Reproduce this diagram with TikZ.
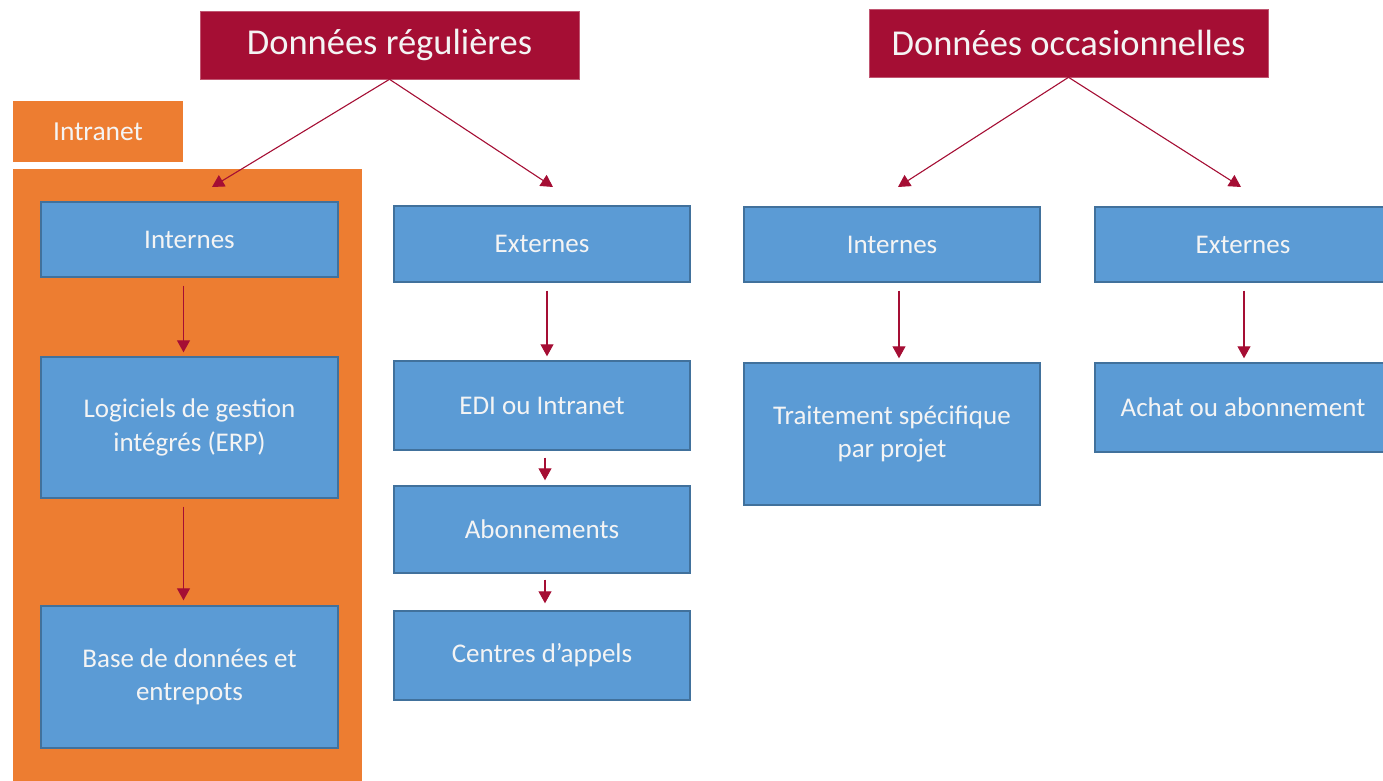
\documentclass[tikz,border=0pt]{standalone}
\usepackage{fontspec}
\setmainfont{Carlito}
\usetikzlibrary{arrows.meta}
\definecolor{maroon}{HTML}{A50E34}
\definecolor{orangeF}{HTML}{ED7D31}
\definecolor{blueF}{HTML}{5B9BD5}
\definecolor{blueD}{HTML}{41719C}
\definecolor{txt}{HTML}{F4F4F4}
\tikzset{
  title/.style={fill=maroon, draw=maroon!70!white, line width=0.6pt, text=txt, font=\fontsize{36.5}{40}\selectfont, inner sep=0pt},
  bbox/.style={fill=blueF, draw=blueD, line width=1.4pt, text=txt, font=\fontsize{27}{33.5}\selectfont, align=center, inner sep=0pt},
  arr/.style={draw=maroon, line width=1.1pt, -{Triangle[length=12pt,width=13pt]}},
}
\begin{document}
\begin{tikzpicture}[x=1pt,y=-1pt]
\useasboundingbox (0,0) rectangle (1383,781);
\clip (0,0) rectangle (1383,781);
% orange zone
\fill[orangeF] (13,169) rectangle (362,790);
\node[fill=orangeF, text=txt, font=\fontsize{27.5}{30}\selectfont, minimum width=170pt, minimum height=61pt, inner sep=0pt] (intra) at (98,131.5) {Intranet};
% titles
\node[title, minimum width=379pt, minimum height=68pt] (reg) at (389.5,45) {Données régulières};
\node[title, minimum width=399pt, minimum height=68pt] (occ) at (1068.5,43) {Données occasionnelles};
% left column
\node[bbox, minimum width=297pt, minimum height=75pt] (int1) at (189.5,239.5) {Internes};
\node[bbox, minimum width=297pt, minimum height=141pt] (erp) at (189.5,427.5) {Logiciels de gestion\\intégrés (ERP)};
\node[bbox, minimum width=297pt, minimum height=142pt] (bdd) at (189.5,677) {Base de données et\\entrepots};
% second column
\node[bbox, minimum width=296pt, minimum height=76pt] (ext1) at (542,244) {Externes};
\node[bbox, minimum width=296pt, minimum height=89pt] (edi) at (542,405.5) {EDI ou Intranet};
\node[bbox, minimum width=296pt, minimum height=87pt] (abo) at (542,529.5) {Abonnements};
\node[bbox, minimum width=296pt, minimum height=89pt] (cen) at (542,655.5) {Centres d’appels};
% third column
\node[bbox, minimum width=296pt, minimum height=75pt] (int2) at (892,244.5) {Internes};
\node[bbox, minimum width=296pt, minimum height=142pt] (tra) at (892,434) {Traitement spécifique\\par projet};
% fourth column
\node[bbox, minimum width=296pt, minimum height=75pt] (ext2) at (1243,244.5) {Externes};
\node[bbox, minimum width=296pt, minimum height=89pt] (ach) at (1243,407.5) {Achat ou abonnement};
% arrow end points
\coordinate (e1) at (212,187);
\coordinate (e2) at (553,187);
\coordinate (e3) at (898,187);
\coordinate (e4) at (1241,187);
\draw[arr] (reg.south) -- (e1);
\draw[arr] (reg.south) -- (e2);
\draw[arr] (occ.south) -- (e3);
\draw[arr] (occ.south) -- (e4);
% vertical arrows
\draw[arr] ([xshift=-6pt,yshift=-8pt]int1.south) -- ([xshift=-6pt,yshift=4pt]erp.north);
\draw[arr] ([xshift=-6pt,yshift=-8pt]erp.south) -- ([xshift=-6pt,yshift=5pt]bdd.north);
\draw[arr] ([xshift=5pt,yshift=-8pt]ext1.south) -- ([xshift=5pt,yshift=4pt]edi.north);
\draw[arr] ([xshift=3pt,yshift=-7pt]edi.south) -- ([xshift=3pt,yshift=5pt]abo.north);
\draw[arr] ([xshift=3pt,yshift=-6pt]abo.south) -- ([xshift=3pt,yshift=7pt]cen.north);
\draw[arr] ([xshift=7pt,yshift=-8pt]int2.south) -- ([xshift=7pt,yshift=4pt]tra.north);
\draw[arr] ([xshift=1pt,yshift=-8pt]ext2.south) -- ([xshift=1pt,yshift=4pt]ach.north);
\end{tikzpicture}
\end{document}
